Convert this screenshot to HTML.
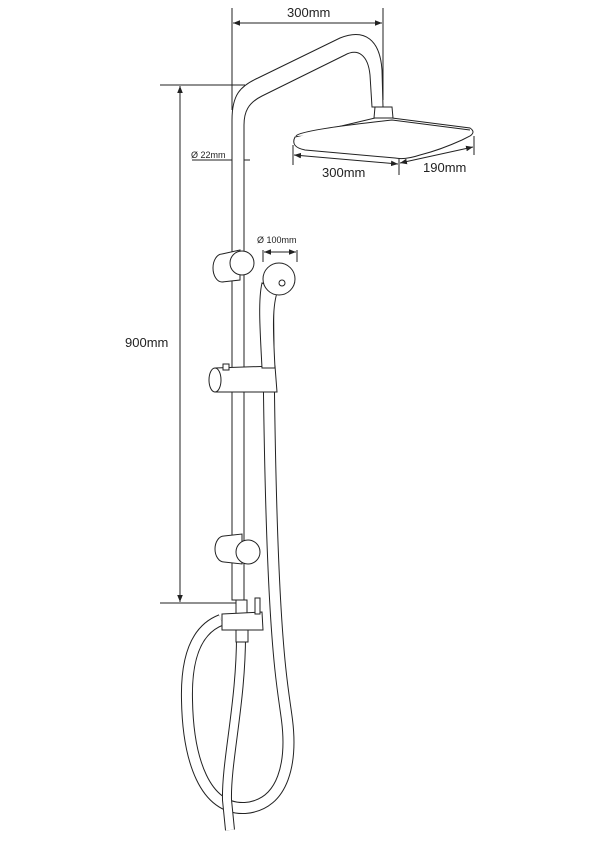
<!DOCTYPE html>
<html><head><style>body{margin:0;background:#fff}svg{display:block}text{font-family:"Liberation Sans",sans-serif;fill:#222}</style></head>
<body>
<svg width="600" height="841" viewBox="0 0 600 841">
<defs>
<marker id="a" viewBox="0 0 10 10" refX="10" refY="5" markerWidth="7" markerHeight="7" orient="auto-start-reverse"><path d="M0,1 L10,5 L0,9z" fill="#222"/></marker>
</defs>
<g fill="none" stroke="#222" stroke-width="1">
<line x1="232" y1="8" x2="232" y2="110"/>
<line x1="383" y1="8" x2="383" y2="100"/>
<line x1="233" y1="23" x2="382" y2="23" marker-start="url(#a)" marker-end="url(#a)"/>
<line x1="160" y1="85" x2="245" y2="85"/>
<line x1="160" y1="603" x2="238" y2="603"/>
<line x1="180" y1="86" x2="180" y2="602" marker-start="url(#a)" marker-end="url(#a)"/>
<line x1="192" y1="160" x2="232" y2="160"/>
<line x1="243" y1="160" x2="250" y2="160"/>
<line x1="293" y1="145" x2="293" y2="165"/>
<line x1="399" y1="150" x2="399" y2="175"/>
<line x1="474" y1="136" x2="474" y2="155"/>
<line x1="294" y1="155" x2="398" y2="164" marker-start="url(#a)" marker-end="url(#a)"/>
<line x1="400" y1="163" x2="473" y2="147" marker-start="url(#a)" marker-end="url(#a)"/>
<line x1="263" y1="250" x2="263" y2="262"/>
<line x1="297" y1="250" x2="297" y2="262"/>
<line x1="264" y1="252" x2="296" y2="252" marker-start="url(#a)" marker-end="url(#a)"/>
</g>
<g fill="none" stroke-linecap="butt">
<path id="h1" d="M221,620 C195,630 186,660 187,700 C188,760 205,810 245,808 C285,805 292,760 287,720 C282,680 270,640 268,290"/>
<path id="h2" d="M241,628 C242,700 226,760 227,800 L230,830"/>
<use href="#h1" stroke="#222" stroke-width="12"/>
<use href="#h1" stroke="#fff" stroke-width="10"/>
<use href="#h2" stroke="#222" stroke-width="10"/>
<use href="#h2" stroke="#fff" stroke-width="8"/>
</g>
<g fill="#fff" stroke="#222" stroke-width="1">
<path d="M232,600 L232,120 C232,95 240,86 258,78 L340,38 C365,28 380,40 382,70 L383,107 L372,107 L370,75 C368,55 358,48 345,55 L262,96 C248,103 244,112 244,125 L244,600 Z"/>
<path d="M375,107 L392,107 L393,118 L374,118 Z"/>
<path d="M375,118 L392,118 L470,128 Q476,132 470,136 L462,140 Q440,150 420,155 Q405,160 395,158 L305,150 Q290,147 295,137 Z"/>
<path d="M296,136 Q300,130 392,120 L470,130"/>
<ellipse cx="222" cy="268" rx="9" ry="14"/>
<path d="M222,254 L240,250 L240,280 L222,282"/>
<circle cx="242" cy="263" r="12"/>
<path d="M215,368 L275,366 L277,392 L215,392 Z"/>
<ellipse cx="215" cy="380" rx="6" ry="12"/>
<rect x="223" y="364" width="6" height="6"/>
<ellipse cx="224" cy="549" rx="9" ry="13"/>
<path d="M224,536 L242,534 L242,564 L224,562"/>
<circle cx="248" cy="552" r="12"/>
<path d="M262,283 C258,300 260,330 262,368 L275,368 C273,330 272,305 278,290 Z"/>
<circle cx="279" cy="279" r="16"/>
<circle cx="282" cy="283" r="3"/>
<rect x="236" y="600" width="11" height="14"/>
<path d="M222,614 L262,612 L263,630 L222,630 Z"/>
<rect x="255" y="598" width="5" height="16"/>
<rect x="236" y="630" width="12" height="12"/>
</g>
<text x="287" y="17" font-size="13">300mm</text>
<text x="125" y="347" font-size="13">900mm</text>
<text x="191" y="158" font-size="9">Ø 22mm</text>
<text x="322" y="177" font-size="13">300mm</text>
<text x="423" y="172" font-size="13">190mm</text>
<text x="257" y="243" font-size="9">Ø 100mm</text>
</svg>
</body></html>
